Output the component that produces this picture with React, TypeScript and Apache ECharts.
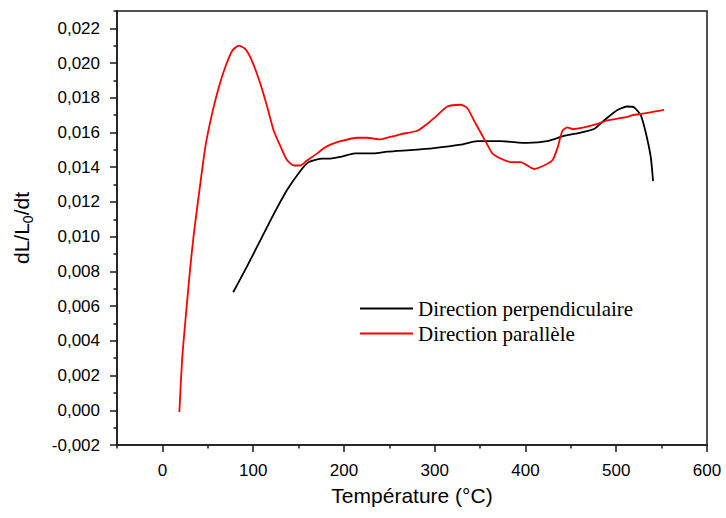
import React, { useEffect, useRef } from "react";
import * as echarts from "echarts";

const perpendicularT = [78, 93.4, 108, 122.7, 137.5, 152.2, 161.3, 176.1, 185.2, 196.3, 203.6, 212.8, 233, 247.7, 277, 299.1, 328.6, 347, 372.7, 402.1, 424.1, 442.4, 460.9, 475.5, 486.6, 501.3, 512.3, 519.6, 527, 532.5, 538, 540.6];
const perpendicularV = [0.0068, 0.0083, 0.0098, 0.0113, 0.0127, 0.0138, 0.0143, 0.0145, 0.0145, 0.0146, 0.0147, 0.0148, 0.0148, 0.0149, 0.015, 0.0151, 0.0153, 0.0155, 0.0155, 0.0154, 0.0155, 0.0158, 0.016, 0.0162, 0.0167, 0.0173, 0.0175, 0.01745, 0.017, 0.016, 0.0146, 0.0132];

const parallelT = [18.7, 21.7, 25.4, 30.1, 34.5, 41.9, 47.4, 54.8, 62.1, 69.5, 76.8, 84.1, 91.5, 98.9, 108, 115.4, 122.7, 130.1, 137.5, 144.8, 152.2, 159.5, 170.6, 177.8, 185.2, 196.3, 214.7, 225.7, 240.4, 247.7, 262.4, 280.8, 291.8, 302.9, 313.9, 328.6, 336, 343.2, 350.6, 358, 363.5, 372.7, 383.7, 394.7, 409.4, 420.4, 429.7, 435.2, 440.7, 446.2, 451.7, 464.5, 479.3, 490.3, 501.3, 512.3, 517.9, 530.7, 541.7, 552.7];
const parallelV = [-0.0001, 0.0029, 0.0052, 0.0079, 0.0101, 0.0131, 0.0152, 0.0171, 0.0186, 0.0198, 0.0207, 0.021, 0.0208, 0.0201, 0.0188, 0.0175, 0.0161, 0.0152, 0.0144, 0.0141, 0.0141, 0.0144, 0.0148, 0.0151, 0.0153, 0.0155, 0.0157, 0.0157, 0.0156, 0.0157, 0.0159, 0.0161, 0.0165, 0.017, 0.0175, 0.0176, 0.0174, 0.0167, 0.016, 0.0153, 0.0148, 0.0145, 0.0143, 0.0143, 0.0139, 0.0141, 0.0144, 0.0151, 0.0161, 0.0163, 0.0162, 0.0163, 0.0165, 0.0167, 0.0168, 0.0169, 0.017, 0.0171, 0.0172, 0.0173];

const seriesNames = ["Direction perpendiculaire", "Direction parallèle"];
const xMajorTicks = [0, 100, 200, 300, 400, 500, 600];
const xMinorTicks = [-50, 50, 150, 250, 350, 450, 550];
const yMajorTicks = [-0.002, 0, 0.002, 0.004, 0.006, 0.008, 0.01, 0.012, 0.014, 0.016, 0.018, 0.02, 0.022];
const yMinorTicks = [-0.001, 0.001, 0.003, 0.005, 0.007, 0.009, 0.011, 0.013, 0.015, 0.017, 0.019, 0.021, 0.023];

const zip = (xs: number[], ys: number[]) => xs.map((x, i) => [x, ys[i]]);

export default function App() {
  const ref = useRef<HTMLDivElement>(null);
  useEffect(() => {
    if (!ref.current) return;
    const chart = echarts.init(ref.current, undefined, { renderer: "svg" });
    const axisColor = "#1a1a1a";
    const sans = "'Liberation Sans', Arial, sans-serif";
    chart.setOption({
      animation: false,
      backgroundColor: "#fff",
      grid: { left: 117, right: 19, top: 11, bottom: 73, show: true, borderColor: axisColor, borderWidth: 1.5 },
      legend: {
        left: 360,
        top: 298,
        padding: 0,
        orient: "vertical",
        icon: "rect",
        itemWidth: 53,
        itemHeight: 1.8,
        itemGap: 4,
        data: seriesNames,
        textStyle: { fontFamily: "'Liberation Serif', 'Times New Roman', serif", fontSize: 21, color: "#000", lineHeight: 21 },
      },
      xAxis: [
        {
          type: "value",
          min: -50,
          max: 600,
          position: "bottom",
          splitLine: { show: false },
          axisLine: { show: true, onZero: false, lineStyle: { color: axisColor, width: 1.5 } },
          axisTick: { show: true, inside: false, length: 7, customValues: xMajorTicks, lineStyle: { color: axisColor, width: 1.5 } },
          axisLabel: { customValues: xMajorTicks, margin: 17, fontFamily: sans, fontSize: 17, color: "#000", formatter: (v: number) => String(v) },
          name: "Température (°C)",
          nameLocation: "middle",
          nameGap: 40,
          nameTextStyle: { fontFamily: sans, fontSize: 21, color: "#000" },
        },
        {
          type: "value",
          min: -50,
          max: 600,
          position: "bottom",
          splitLine: { show: false },
          axisLine: { show: false, onZero: false },
          axisTick: { show: true, inside: false, length: 3.5, customValues: xMinorTicks, lineStyle: { color: axisColor, width: 1.5 } },
          axisLabel: { show: false },
        },
      ],
      yAxis: [
        {
          type: "value",
          min: -0.002,
          max: 0.023,
          position: "left",
          splitLine: { show: false },
          axisLine: { show: true, onZero: false, lineStyle: { color: axisColor, width: 1.5 } },
          axisTick: { show: true, inside: false, length: 7, customValues: yMajorTicks, lineStyle: { color: axisColor, width: 1.5 } },
          axisLabel: {
            customValues: yMajorTicks,
            margin: 17,
            fontFamily: sans,
            fontSize: 17,
            color: "#000",
            formatter: (v: number) => v.toFixed(3).replace(".", ","),
          },
          name: "{a|dL/L}{s|0}{a|/dt}",
          nameLocation: "middle",
          nameRotate: 90,
          nameGap: 82,
          nameTextStyle: {
            fontFamily: sans,
            color: "#000",
            rich: {
              a: { fontFamily: sans, fontSize: 21, lineHeight: 27, color: "#000" },
              s: { fontFamily: sans, fontSize: 14, lineHeight: 27, verticalAlign: "bottom", color: "#000" },
            },
          },
        },
        {
          type: "value",
          min: -0.002,
          max: 0.023,
          position: "left",
          splitLine: { show: false },
          axisLine: { show: false, onZero: false },
          axisTick: { show: true, inside: false, length: 3.5, customValues: yMinorTicks, lineStyle: { color: axisColor, width: 1.5 } },
          axisLabel: { show: false },
        },
      ],
      series: [
        {
          name: seriesNames[0],
          type: "line",
          xAxisIndex: 0,
          yAxisIndex: 0,
          data: zip(perpendicularT, perpendicularV),
          symbol: "none",
          smooth: 0.2,
          lineStyle: { color: "#000", width: 1.8 },
          itemStyle: { color: "#000" },
        },
        {
          name: seriesNames[1],
          type: "line",
          xAxisIndex: 0,
          yAxisIndex: 0,
          data: zip(parallelT, parallelV),
          symbol: "none",
          smooth: 0.2,
          lineStyle: { color: "#ff0000", width: 1.8 },
          itemStyle: { color: "#ff0000" },
        },
      ],
    });
    return () => chart.dispose();
  }, []);
  return <div ref={ref} style={{ position: "fixed", left: 0, top: 0, width: 726, height: 518 }} />;
}
